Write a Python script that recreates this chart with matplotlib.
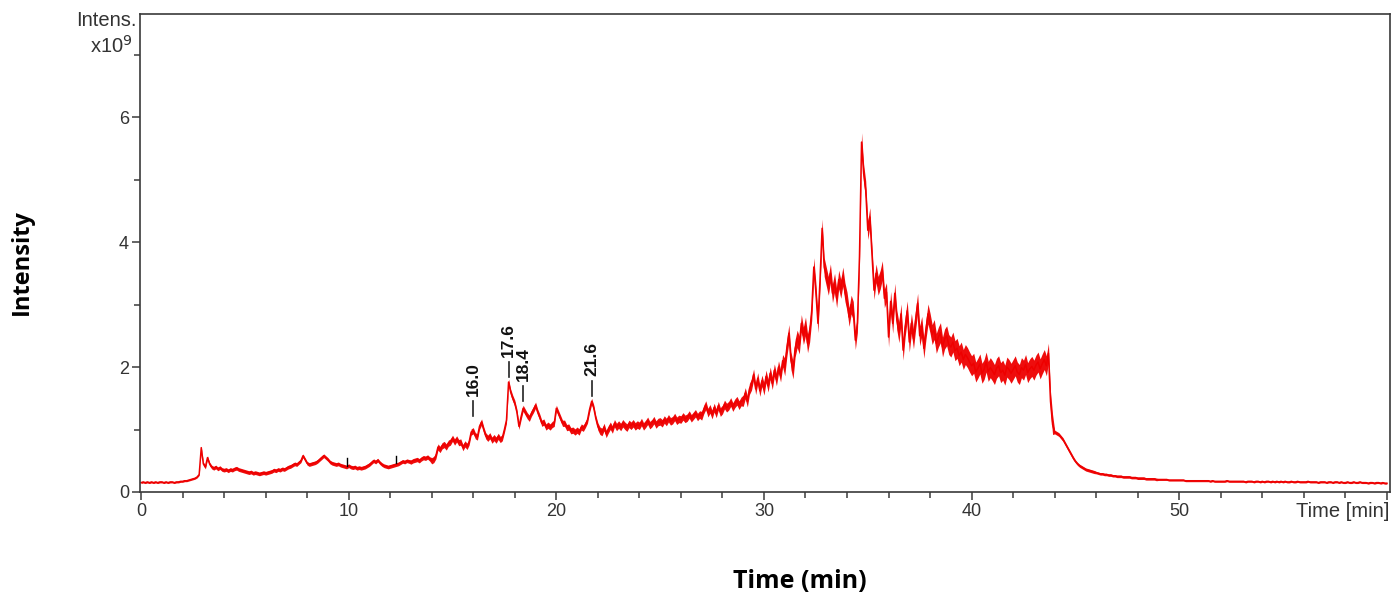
import numpy as np
import matplotlib
matplotlib.use("Agg")
import matplotlib.pyplot as plt
from matplotlib.ticker import MultipleLocator, FixedLocator

# ---------------- data ----------------
# intensity (x1e9) sampled every 0.1 min from 0.0 to 60.0 min, one row per minute
intensity_rows = [
    [0.15, 0.16, 0.15, 0.16, 0.15, 0.16, 0.15, 0.16, 0.15, 0.16],  # 0
    [0.16, 0.15, 0.16, 0.15, 0.16, 0.16, 0.15, 0.16, 0.16, 0.17],  # 1
    [0.17, 0.18, 0.18, 0.19, 0.20, 0.21, 0.22, 0.24, 0.28, 0.71],  # 2
    [0.45, 0.40, 0.55, 0.45, 0.40, 0.38, 0.40, 0.37, 0.39, 0.36],  # 3
    [0.35, 0.36, 0.34, 0.36, 0.35, 0.37, 0.38, 0.36, 0.35, 0.34],  # 4
    [0.33, 0.32, 0.31, 0.32, 0.30, 0.31, 0.30, 0.29, 0.30, 0.31],  # 5
    [0.30, 0.31, 0.32, 0.33, 0.35, 0.34, 0.36, 0.35, 0.37, 0.36],  # 6
    [0.38, 0.40, 0.41, 0.43, 0.45, 0.44, 0.47, 0.50, 0.58, 0.52],  # 7
    [0.46, 0.44, 0.45, 0.46, 0.47, 0.49, 0.52, 0.55, 0.58, 0.55],  # 8
    [0.52, 0.48, 0.46, 0.45, 0.44, 0.45, 0.43, 0.42, 0.41, 0.40],  # 9
    [0.42, 0.40, 0.39, 0.40, 0.38, 0.39, 0.38, 0.39, 0.40, 0.42],  # 10
    [0.44, 0.47, 0.50, 0.48, 0.51, 0.47, 0.44, 0.42, 0.41, 0.40],  # 11
    [0.41, 0.42, 0.43, 0.44, 0.45, 0.47, 0.49, 0.48, 0.50, 0.49],  # 12
    [0.48, 0.50, 0.51, 0.52, 0.50, 0.53, 0.55, 0.54, 0.56, 0.53],  # 13
    [0.50, 0.52, 0.58, 0.72, 0.68, 0.74, 0.76, 0.72, 0.78, 0.80],  # 14
    [0.86, 0.80, 0.85, 0.79, 0.80, 0.71, 0.77, 0.73, 0.80, 0.96],  # 15
    [0.98, 0.90, 0.88, 1.05, 1.12, 1.00, 0.90, 0.86, 0.90, 0.83],  # 16
    [0.87, 0.83, 0.89, 0.84, 0.87, 1.00, 1.15, 1.76, 1.60, 1.50],  # 17
    [1.42, 1.28, 1.05, 1.20, 1.34, 1.28, 1.22, 1.18, 1.26, 1.32],  # 18
    [1.39, 1.28, 1.20, 1.10, 1.12, 1.04, 1.07, 1.04, 1.08, 1.10],  # 19
    [1.34, 1.26, 1.18, 1.10, 1.10, 1.03, 1.04, 0.98, 0.99, 0.96],  # 20
    [0.99, 0.96, 1.04, 1.02, 1.08, 1.15, 1.32, 1.45, 1.35, 1.18],  # 21
    [1.05, 0.98, 0.96, 1.04, 0.93, 1.00, 1.06, 1.00, 1.10, 1.04],  # 22
    [1.08, 1.04, 1.10, 1.06, 1.03, 1.09, 1.06, 1.10, 1.05, 1.08],  # 23
    [1.06, 1.12, 1.05, 1.09, 1.14, 1.07, 1.10, 1.15, 1.08, 1.12],  # 24
    [1.13, 1.10, 1.16, 1.12, 1.18, 1.13, 1.15, 1.20, 1.14, 1.17],  # 25
    [1.16, 1.21, 1.17, 1.19, 1.24, 1.18, 1.22, 1.26, 1.20, 1.24],  # 26
    [1.22, 1.32, 1.39, 1.27, 1.33, 1.24, 1.35, 1.26, 1.38, 1.28],  # 27
    [1.32, 1.40, 1.35, 1.38, 1.44, 1.36, 1.42, 1.46, 1.39, 1.45],  # 28
    [1.46, 1.58, 1.45, 1.65, 1.72, 1.88, 1.65, 1.82, 1.62, 1.78],  # 29
    [1.65, 1.85, 1.70, 1.90, 1.74, 1.95, 1.80, 2.00, 1.86, 2.10],  # 30
    [2.00, 2.30, 2.54, 2.10, 1.95, 2.30, 2.45, 2.35, 2.70, 2.50],  # 31
    [2.65, 2.38, 2.55, 2.90, 3.60, 3.20, 2.70, 3.40, 4.22, 3.60],  # 32
    [3.45, 3.30, 3.50, 3.18, 3.35, 3.10, 3.40, 3.25, 3.45, 3.20],  # 33
    [3.05, 2.80, 3.00, 2.90, 2.43, 2.70, 3.77, 5.60, 5.10, 4.83],  # 34
    [4.19, 4.40, 3.80, 3.23, 3.50, 3.30, 3.40, 3.55, 3.10, 3.20],  # 35
    [2.48, 3.05, 2.70, 3.18, 2.75, 2.55, 2.85, 2.27, 2.65, 2.90],  # 36
    [2.40, 2.70, 2.45, 2.75, 3.02, 2.50, 2.65, 2.30, 2.60, 2.85],  # 37
    [2.70, 2.52, 2.60, 2.38, 2.48, 2.55, 2.32, 2.45, 2.50, 2.36],  # 38
    [2.32, 2.40, 2.26, 2.30, 2.18, 2.24, 2.12, 2.20, 2.15, 2.08],  # 39
    [2.02, 2.06, 1.92, 1.98, 2.05, 1.90, 1.96, 2.08, 1.93, 1.99],  # 40
    [1.94, 1.88, 1.98, 2.02, 1.91, 1.95, 1.87, 2.00, 1.96, 1.90],  # 41
    [1.96, 2.02, 1.92, 1.88, 1.99, 1.95, 2.04, 1.91, 1.97, 2.01],  # 42
    [1.95, 2.03, 2.08, 1.97, 2.05, 2.12, 2.02, 2.22, 1.45, 1.08],  # 43
    [0.96, 0.94, 0.92, 0.88, 0.84, 0.78, 0.72, 0.66, 0.60, 0.54],  # 44
    [0.49, 0.45, 0.42, 0.40, 0.38, 0.36, 0.35, 0.34, 0.33, 0.32],  # 45
    [0.31, 0.30, 0.29, 0.29, 0.28, 0.28, 0.27, 0.27, 0.26, 0.26],  # 46
    [0.25, 0.25, 0.25, 0.24, 0.24, 0.24, 0.24, 0.23, 0.23, 0.23],  # 47
    [0.22, 0.22, 0.22, 0.22, 0.21, 0.21, 0.21, 0.21, 0.21, 0.20],  # 48
    [0.20, 0.20, 0.20, 0.20, 0.20, 0.19, 0.19, 0.19, 0.19, 0.19],  # 49
    [0.19, 0.19, 0.19, 0.18, 0.18, 0.18, 0.18, 0.18, 0.18, 0.18],  # 50
    [0.18, 0.18, 0.18, 0.18, 0.18, 0.17, 0.18, 0.17, 0.17, 0.17],  # 51
    [0.17, 0.17, 0.17, 0.18, 0.17, 0.17, 0.17, 0.17, 0.17, 0.17],  # 52
    [0.17, 0.17, 0.16, 0.17, 0.17, 0.17, 0.16, 0.17, 0.17, 0.16],  # 53
    [0.17, 0.16, 0.17, 0.17, 0.16, 0.17, 0.16, 0.17, 0.16, 0.17],  # 54
    [0.16, 0.17, 0.16, 0.16, 0.17, 0.16, 0.16, 0.17, 0.16, 0.16],  # 55
    [0.16, 0.16, 0.17, 0.16, 0.16, 0.16, 0.16, 0.15, 0.16, 0.16],  # 56
    [0.16, 0.15, 0.16, 0.16, 0.15, 0.16, 0.16, 0.15, 0.16, 0.15],  # 57
    [0.15, 0.16, 0.15, 0.15, 0.16, 0.15, 0.15, 0.16, 0.15, 0.15],  # 58
    [0.15, 0.14, 0.15, 0.15, 0.14, 0.15, 0.15, 0.14, 0.15, 0.14],  # 59
    [0.14],                                                        # 60
]
# half thickness of the noise band per minute (x1e9)
noise_halfwidth = [0.015, 0.015, 0.015, 0.03, 0.03, 0.03, 0.03, 0.03, 0.03, 0.03,
                   0.03, 0.03, 0.03, 0.035, 0.05, 0.05, 0.05, 0.05, 0.05, 0.05,
                   0.05, 0.05, 0.06, 0.06, 0.06, 0.06, 0.06, 0.07, 0.07, 0.09,
                   0.10, 0.14, 0.15, 0.15, 0.15, 0.15, 0.16, 0.16, 0.16, 0.16,
                   0.16, 0.16, 0.16, 0.16, 0.03, 0.025, 0.02, 0.02, 0.02, 0.015,
                   0.015, 0.015, 0.015, 0.015, 0.015, 0.015, 0.015, 0.015, 0.015, 0.015,
                   0.015]
peak_labels = ["16.0", "17.6", "18.4", "21.6"]
peak_times = [16.0, 17.7, 18.4, 21.7]
peak_tops = [1.15, 1.78, 1.40, 1.48]
minor_marks_t = [9.9, 12.3]
minor_marks_v = [0.42, 0.46]

x_major = [0, 10, 20, 30, 40, 50, 60]
x_major_labels = ["0", "10", "20", "30", "40", "50", ""]
y_major = [0, 2, 4, 6]

# ---------------- build ----------------
intensity = np.array([v for row in intensity_rows for v in row])
time = np.arange(len(intensity)) * 0.1
hw = np.array([noise_halfwidth[int(t)] for t in time])

plt.rcParams['font.family'] = ['Liberation Sans', 'DejaVu Sans']
fig = plt.figure(figsize=(13.93, 5.96), dpi=100)
ax = fig.add_axes([140 / 1393, (596 - 492) / 596, (1390 - 140) / 1393, (492 - 14) / 596])

red = '#ee0000'
ax.fill_between(time, intensity - hw, intensity + hw, color=red, lw=0, alpha=0.95)
ax.plot(time, intensity, color=red, lw=1.1)

axis_col = '#3a3a3a'
for t, v in zip(minor_marks_t, minor_marks_v):
    ax.plot([t, t], [v, v + 0.12], color='black', lw=1)
for lab, t, v in zip(peak_labels, peak_times, peak_tops):
    ax.plot([t, t], [v + 0.06, v + 0.30], color='#222222', lw=1.2)
    ax.text(t, v + 0.38, lab, rotation=90, ha='center', va='bottom',
            fontsize=12.5, color='#111111', fontweight='bold')

ax.set_xlim(-0.05, 60.15)
ax.set_ylim(0, 7.65)
ax.xaxis.set_major_locator(FixedLocator(x_major))
ax.set_xticklabels(x_major_labels)
ax.xaxis.set_minor_locator(MultipleLocator(2))
ax.yaxis.set_major_locator(FixedLocator(y_major))
ax.yaxis.set_minor_locator(MultipleLocator(1))

for s in ax.spines.values():
    s.set_color(axis_col)
    s.set_linewidth(1.2)
ax.tick_params(which='major', length=6, width=1.1, color=axis_col,
               labelsize=13, labelcolor='#333333', pad=2)
ax.tick_params(which='minor', length=4, width=1.1, color=axis_col)

ax.text(60.1, -0.16, "Time [min]", transform=ax.transData, ha='right', va='top',
        fontsize=14.5, color='#333333')
fig.text(137 / 1393, 1 - 21 / 596, "Intens.", ha='right', va='center',
         fontsize=14.5, color='#333333')
fig.text(133 / 1393, 1 - 46 / 596, r"x10$^{9}$", ha='right', va='center',
         fontsize=14.5, color='#333333')

fig.text(22 / 1393, 1 - 262 / 596, "Intensity", rotation=90, ha='center', va='center',
         fontsize=17, fontweight='bold', family=['Open Sans', 'DejaVu Sans'])
fig.text(800 / 1393, 1 - 581 / 596, "Time (min)", ha='center', va='center',
         fontsize=18, fontweight='bold', family=['Open Sans', 'DejaVu Sans'])

fig.savefig("out.png", dpi=100)
